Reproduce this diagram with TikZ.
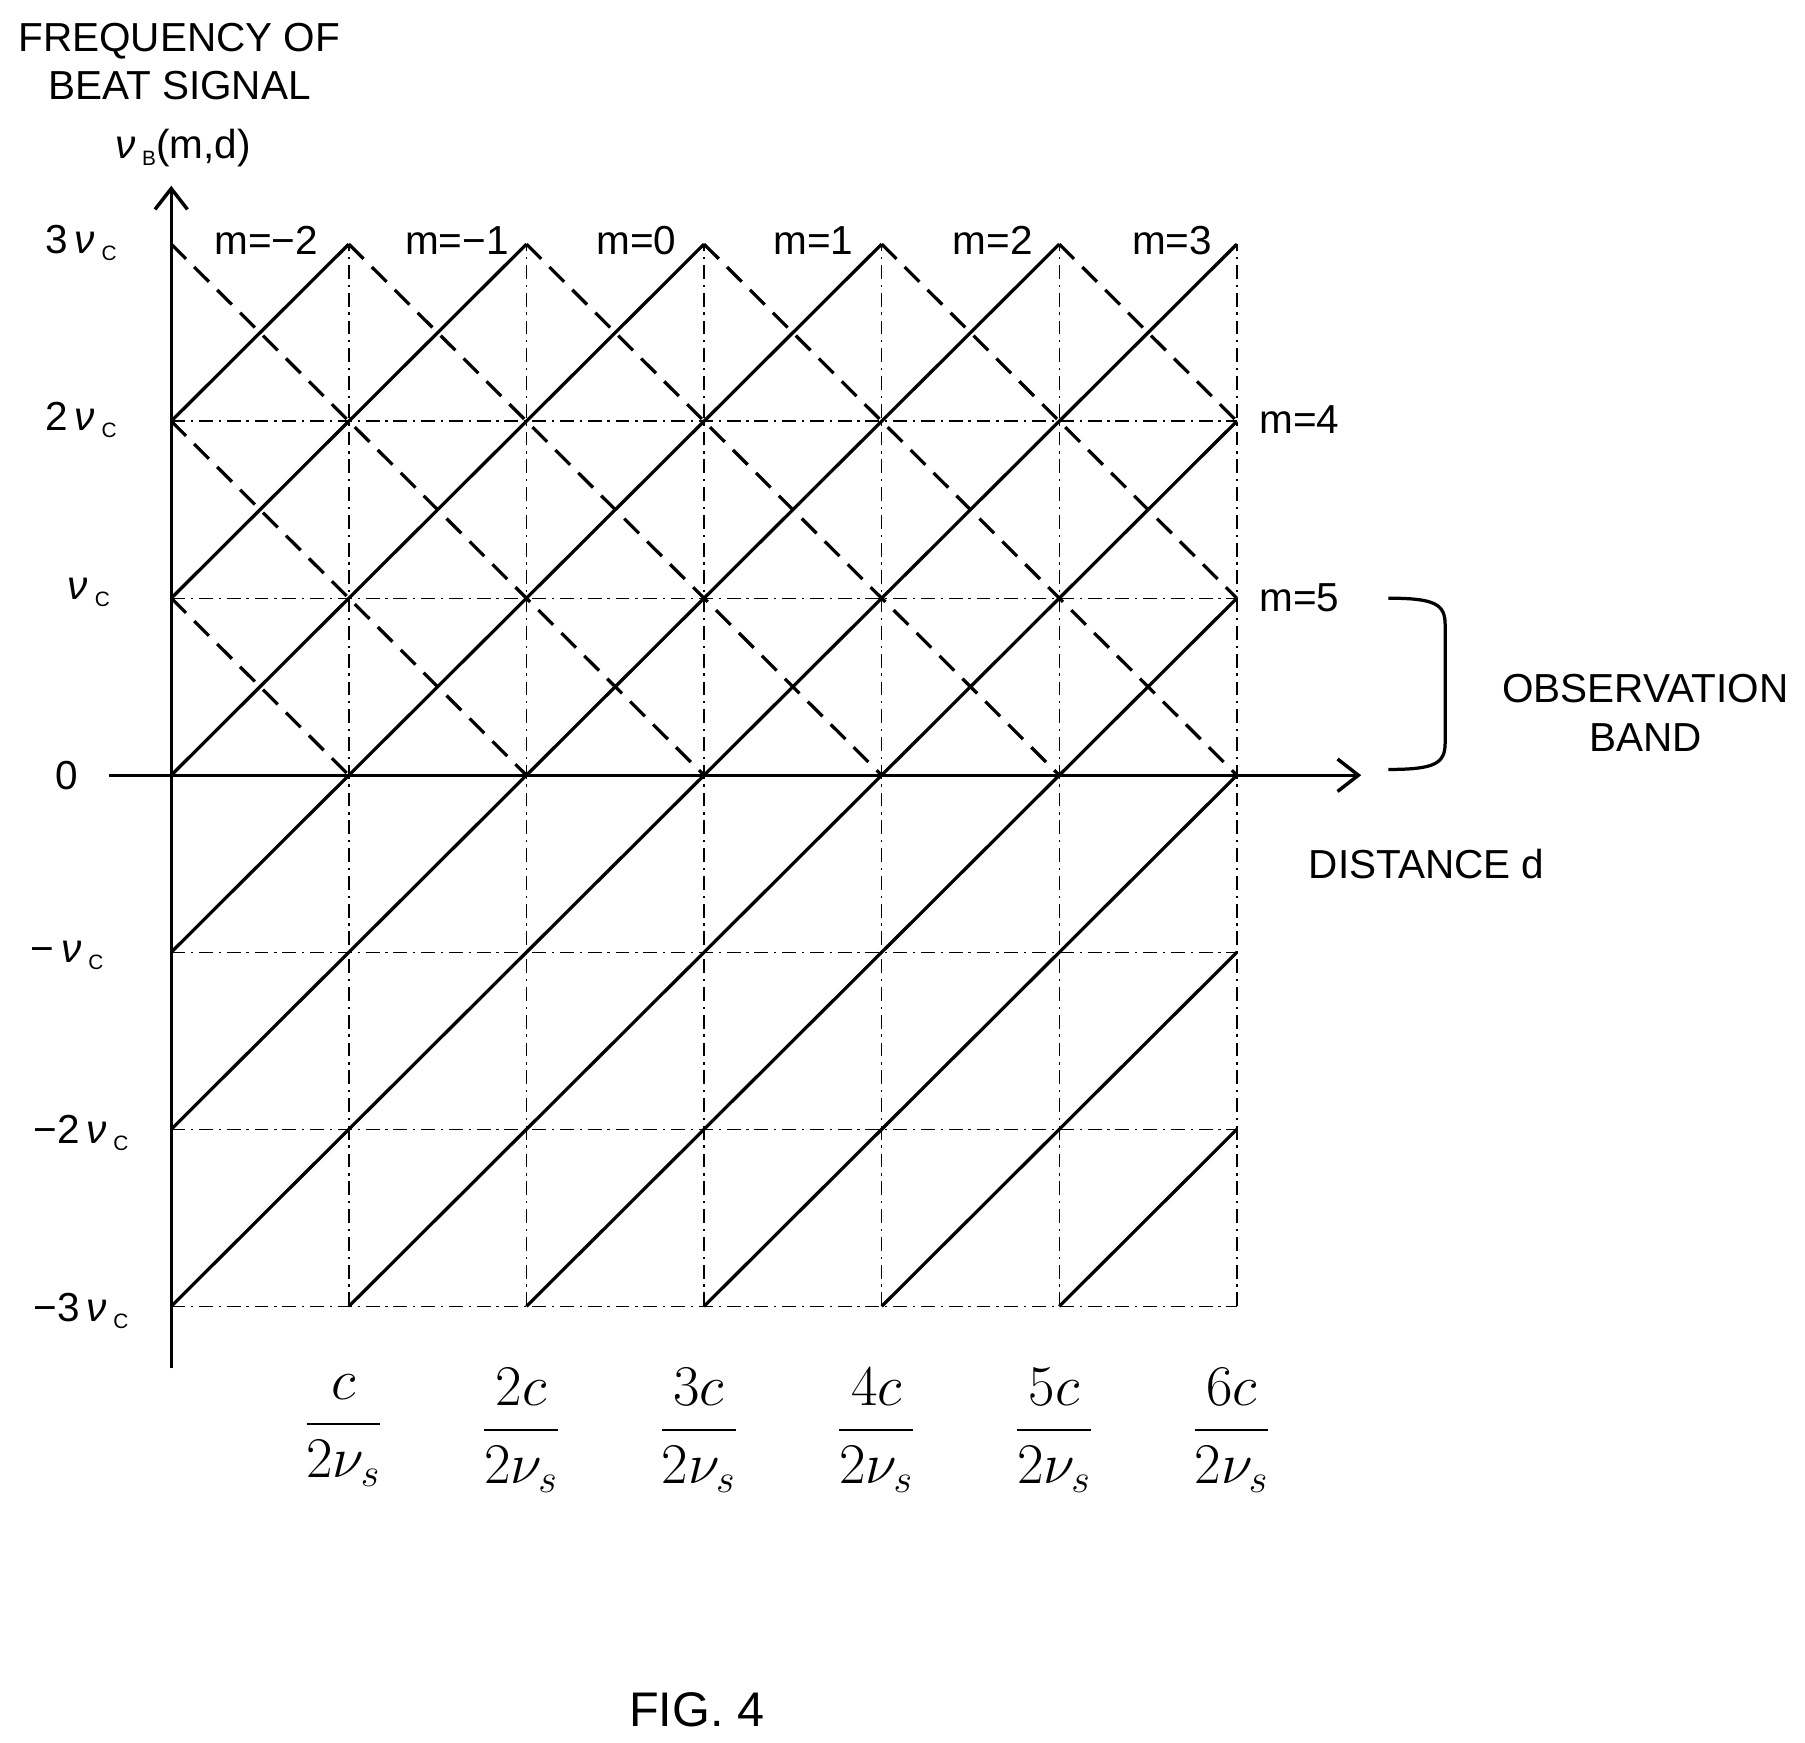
\documentclass[tikz,border=0pt]{standalone}
\usepackage{amsmath}
\usepackage{fontspec}
\setmainfont{Liberation Sans}
\usetikzlibrary{arrows.meta}
\tikzset{every picture/.style={line width=0.75pt}}
\tikzset{
  gridline/.style={line width=0.6pt,dash pattern=on 6pt off 2.5pt on 1pt off 2.5pt},
  solidline/.style={line width=1.4pt},
  dashline/.style={line width=1.4pt,dash pattern=on 9pt off 5pt},
  axisline/.style={line width=1.5pt,-{Straight Barb[length=9pt,width=14pt,line width=1.5pt]}},
  lbl/.style={inner sep=0.75pt,font=\fontsize{17.5}{21}\selectfont},
}
\newcommand{\nuC}[1]{#1\,\textit{ν}\,\raisebox{-3pt}{\small C}}
\begin{document}
\begin{tikzpicture}[x=0.5pt,y=-0.5pt]
\useasboundingbox (0,0) rectangle (1560,1506);

\begin{scope}[shift={(148,670)},x=76.75pt,y=76.5pt]
% grid
\foreach \k in {1,2} \draw[gridline] (0,\k) -- (6,\k);
\foreach \k in {1,2,3} \draw[gridline] (0,-\k) -- (6,-\k);
\foreach \i in {1,...,6}
  \draw[gridline] (\i,-3) -- (\i,3);
% rising lines
\foreach \k in {-3,...,2}
  \draw[solidline] (0,\k) -- (3-\k,3);
\foreach \i in {1,...,5}
  \draw[solidline] (\i,-3) -- (6,3-\i);
% falling lines
\foreach \k in {1,2,3}
  \draw[dashline] (0,\k) -- (\k,0);
\foreach \i in {1,...,5}
  \draw[dashline] (\i,3) -- ({min(6,\i+3)},{max(0,\i-3)});
% axes
\draw[axisline] (0,-3.35) -- (0,3.33);
\draw[axisline] (-0.35,0) -- (6.7,0);
% distance ticks
\foreach \i/\t in {1/,2/2,3/3,4/4,5/5,6/6}
  \node[font=\fontsize{24}{27}\selectfont] (d\i) at (\i-0.03,-3.7) {$\dfrac{\t c}{2\nu_s}$};
\end{scope}

% frequency labels
\node[lbl] (f3) at (70,210) {\nuC{3}};
\node[lbl] (f2) at (70,363) {\nuC{2}};
\node[lbl] (f1) at (74,512) {\nuC{}};
\node[lbl] (f0) at (58,670) {0};
\node[lbl] (fm1) at (58,826) {\nuC{−}};
\node[lbl] (fm2) at (70,979) {\nuC{−2}};
\node[lbl] (fm3) at (70,1133) {\nuC{−3}};

% order labels
\foreach \x/\m in {230/−2,395/−1,550/0,703/1,858/2,1013/3}
  \node[lbl] at (\x,208) {m=\m};
\node[lbl] (m4) at (1123,363) {m=4};
\node[lbl] (m5) at (1123,517) {m=5};

% band brace
\draw[line width=1.4pt] (1200,517) .. controls (1240,517) and (1249,522) .. (1249,540)
  -- (1249,642) .. controls (1249,660) and (1240,665) .. (1200,665);
\node[lbl] (band) at (1422,620) {\begin{tabular}{c}OBSERVATION\\BAND\end{tabular}};

% axis titles
\node[lbl] (dist) at (1233,747) {DISTANCE d};
\node[lbl] (ttl) at (155,57) {\begin{tabular}{c}FREQUENCY OF\\BEAT SIGNAL\end{tabular}};
\node[lbl] (nub) at (158,128) {\textit{ν}\,\raisebox{-3pt}{\small B}(m,d)};

\node[font=\fontsize{21}{24}\selectfont] (fig) at (602,1478) {FIG. 4};
\end{tikzpicture}
\end{document}
